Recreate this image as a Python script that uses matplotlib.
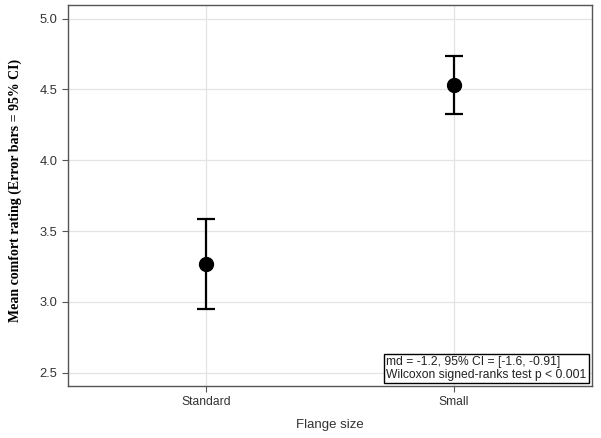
import matplotlib
matplotlib.use("Agg")
import matplotlib.pyplot as plt
import numpy as np

categories = ["Standard", "Small"]
means = [3.27, 4.53]
ci_lower = [2.95, 4.325]
ci_upper = [3.585, 4.735]
yticks = [2.5, 3.0, 3.5, 4.0, 4.5, 5.0]
annotation = "md = -1.2, 95% CI = [-1.6, -0.91]\nWilcoxon signed-ranks test p < 0.001"

fig = plt.figure(figsize=(6.01, 4.38), dpi=100)
ax = fig.add_axes([0.113, 0.119, 0.872, 0.8696])

x = np.arange(len(categories))
m = np.array(means)
err = np.vstack([m - np.array(ci_lower), np.array(ci_upper) - m])
ax.errorbar(x, m, yerr=err, fmt="o", color="black", markersize=10,
            elinewidth=1.6, capsize=6.5, capthick=1.6, zorder=3)

ax.set_xlim(-0.558, 1.558)
ax.set_ylim(2.406, 5.097)
ax.set_xticks(x)
ax.set_xticklabels(categories, family="Liberation Sans", fontsize=8.7)
ax.set_yticks(yticks)
ax.set_yticklabels([f"{v:.1f}" for v in yticks], family="Liberation Sans", fontsize=9.3)
ax.grid(True, color="#e3e3e3", linewidth=0.9)
ax.set_axisbelow(True)
for s in ax.spines.values():
    s.set_color("#555555")
    s.set_linewidth(1.0)
ax.tick_params(length=4, color="#555555", labelcolor="#333333")

ax.set_xlabel("Flange size", family="Liberation Sans", fontsize=9.5, color="#333333", labelpad=8)
ax.set_ylabel("Mean comfort rating (Error bars = 95% CI)", family="Liberation Serif",
              fontweight="bold", fontsize=10, labelpad=12)
ax.yaxis.set_label_coords(-0.087, 0.513)

ax.text(0.99, 0.014, annotation, transform=ax.transAxes, ha="right", va="bottom",
        multialignment="left",
        family="Liberation Sans", fontsize=8.7, color="#222222", linespacing=1.1,
        bbox=dict(boxstyle="square,pad=0.17", facecolor="white", edgecolor="black", linewidth=1.0))

fig.savefig("out.png", dpi=100)
